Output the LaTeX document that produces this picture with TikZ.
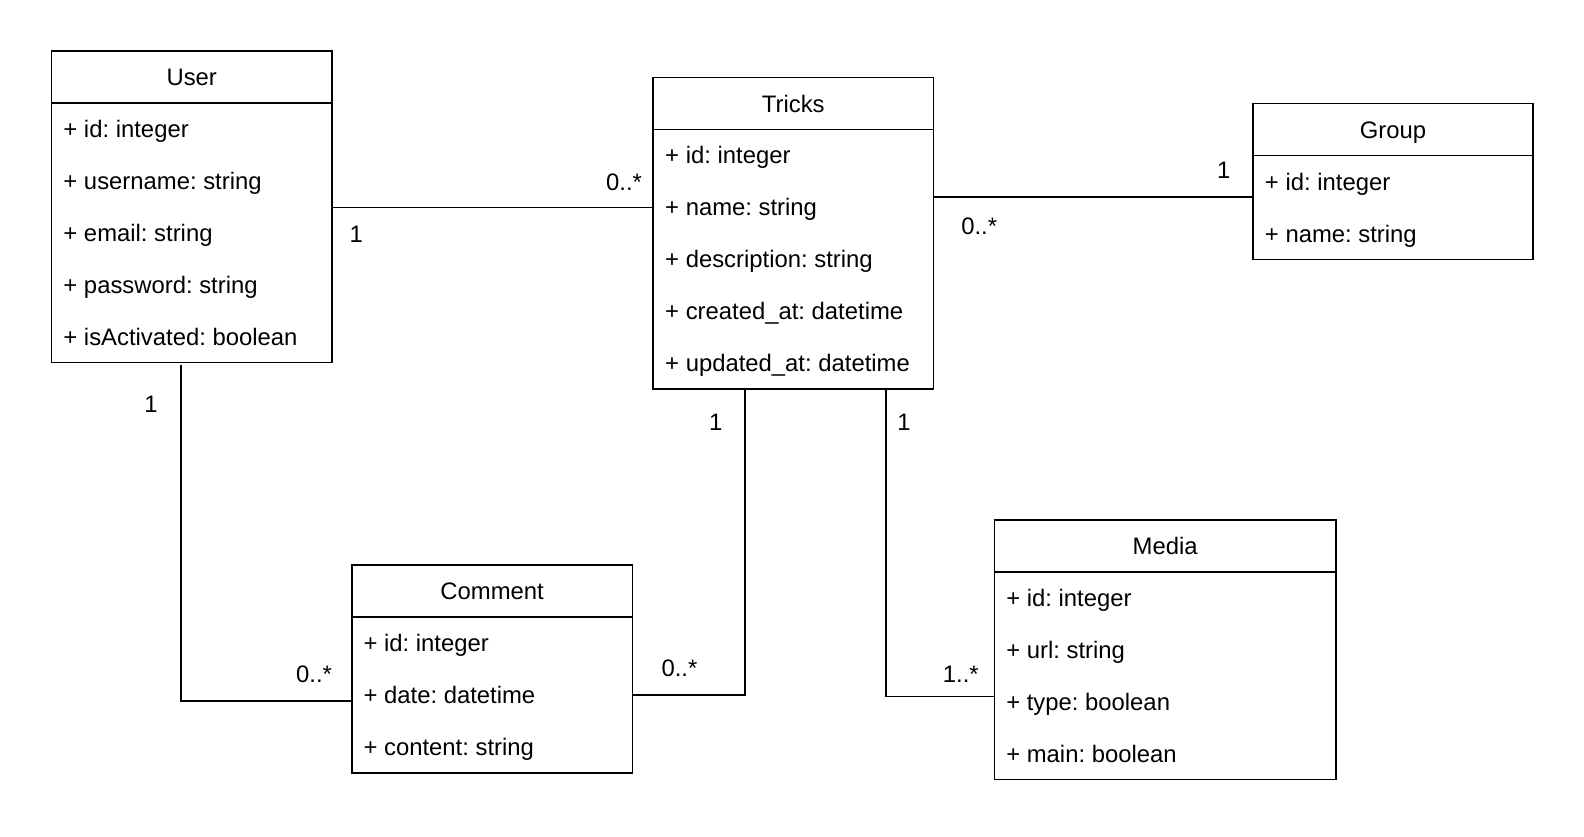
\documentclass[tikz,border=0pt]{standalone}
\usepackage{fontspec}
\setmainfont{Liberation Sans}
\usetikzlibrary{positioning}
\frenchspacing
\tikzset{
	txt/.style  = {inner sep=0pt, text height=8.45pt, text depth=0pt, font=\fontsize{11.8}{14}\selectfont},
	head/.style = {txt, draw, outer sep=0pt, minimum width=138.75pt, minimum height=25.7pt},
	body/.style = {draw, outer sep=0pt, inner sep=0pt, minimum width=138.75pt},
	attr/.style = {txt, anchor=west},
	mult/.style = {txt}
}
\begin{document}
\begin{tikzpicture}[x=0.5pt, y=-0.5pt, line width=0.8pt]
	\useasboundingbox (0,0) rectangle (1567.5,827.3);
	% User
	\node (User) at (189.75, 76.2)	[head]	{User};
	\node (UserBody)	[body, below=0pt of User, minimum height=128.5pt]	{};
	\node (U1) at (62, 128)	[attr]	{+ id: integer};
	\node (U2) at (62, 179.4)	[attr]	{+ username: string};
	\node (U3) at (62, 230.8)	[attr]	{+ email: string};
	\node (U4) at (62, 282.2)	[attr]	{+ password: string};
	\node (U5) at (62, 333.6)	[attr]	{+ isActivated: boolean};
	% Tricks
	\node (Tricks) at (785, 102.4)	[head]	{Tricks};
	\node (TricksBody)	[body, below=0pt of Tricks, minimum height=128.5pt]	{};
	\node (T1) at (657.5, 153.8)	[attr]	{+ id: integer};
	\node (T2) at (657.5, 205.2)	[attr]	{+ name: string};
	\node (T3) at (657.5, 256.6)	[attr]	{+ description: string};
	\node (T4) at (657.5, 308.0)	[attr]	{+ created\_at: datetime};
	\node (T5) at (657.5, 359.4)	[attr]	{+ updated\_at: datetime};
	% Group
	\node (Group) at (1378.5, 128.3)	[head]	{Group};
	\node (GroupBody)	[body, below=0pt of Group, minimum height=51.4pt]	{};
	\node (G1) at (1251, 179.7)	[attr]	{+ id: integer};
	\node (G2) at (1251, 231.1)	[attr]	{+ name: string};
	% Comment
	\node (Comment) at (487, 585.1)	[head]	{Comment};
	\node (CommentBody)	[body, below=0pt of Comment, minimum height=77.1pt]	{};
	\node (C1) at (359, 636.5)	[attr]	{+ id: integer};
	\node (C2) at (359, 687.9)	[attr]	{+ date: datetime};
	\node (C3) at (359, 739.3)	[attr]	{+ content: string};
	% Media
	\node (Media) at (1153, 540.1)	[head, minimum width=169pt]	{Media};
	\node (MediaBody)	[body, below=0pt of Media, minimum width=169pt, minimum height=102.8pt]	{};
	\node (M1) at (995, 591.5)	[attr]	{+ id: integer};
	\node (M2) at (995, 642.9)	[attr]	{+ url: string};
	\node (M3) at (995, 694.3)	[attr]	{+ type: boolean};
	\node (M4) at (995, 745.7)	[attr]	{+ main: boolean};

	% associations
	\coordinate (TG) at (1240, 194.7);
	\coordinate (UC) at (179.1, 693.4);
	\coordinate (TC) at (737.5, 687.5);
	\coordinate (TM) at (876.5, 689.4);
	\draw (UserBody.east |- T2) -- (TricksBody.west |- T2);
	\draw (TricksBody.east |- TG) -- (TG);
	\draw[shorten <=1.2pt] (UserBody.south -| UC) |- (CommentBody.west |- UC);
	\draw (TricksBody.south -| TC) |- (CommentBody.east |- TC);
	\draw (TricksBody.south -| TM) |- (MediaBody.west |- TM);

	% multiplicities
	\node (m1) at (352.5, 232)	[mult]	{1};
	\node (m2) at (617.5, 180.4)	[mult]	{0..*};
	\node (m3) at (969, 223.9)	[mult]	{0..*};
	\node (m4) at (1211, 168.4)	[mult]	{1};
	\node (m5) at (149.4, 399.4)	[mult]	{1};
	\node (m6) at (310.8, 666.7)	[mult]	{0..*};
	\node (m7) at (708.4, 417.7)	[mult]	{1};
	\node (m8) at (672.4, 661)	[mult]	{0..*};
	\node (m9) at (894.7, 417.7)	[mult]	{1};
	\node (m10) at (950.8, 666.7)	[mult]	{1..*};
\end{tikzpicture}
\end{document}
